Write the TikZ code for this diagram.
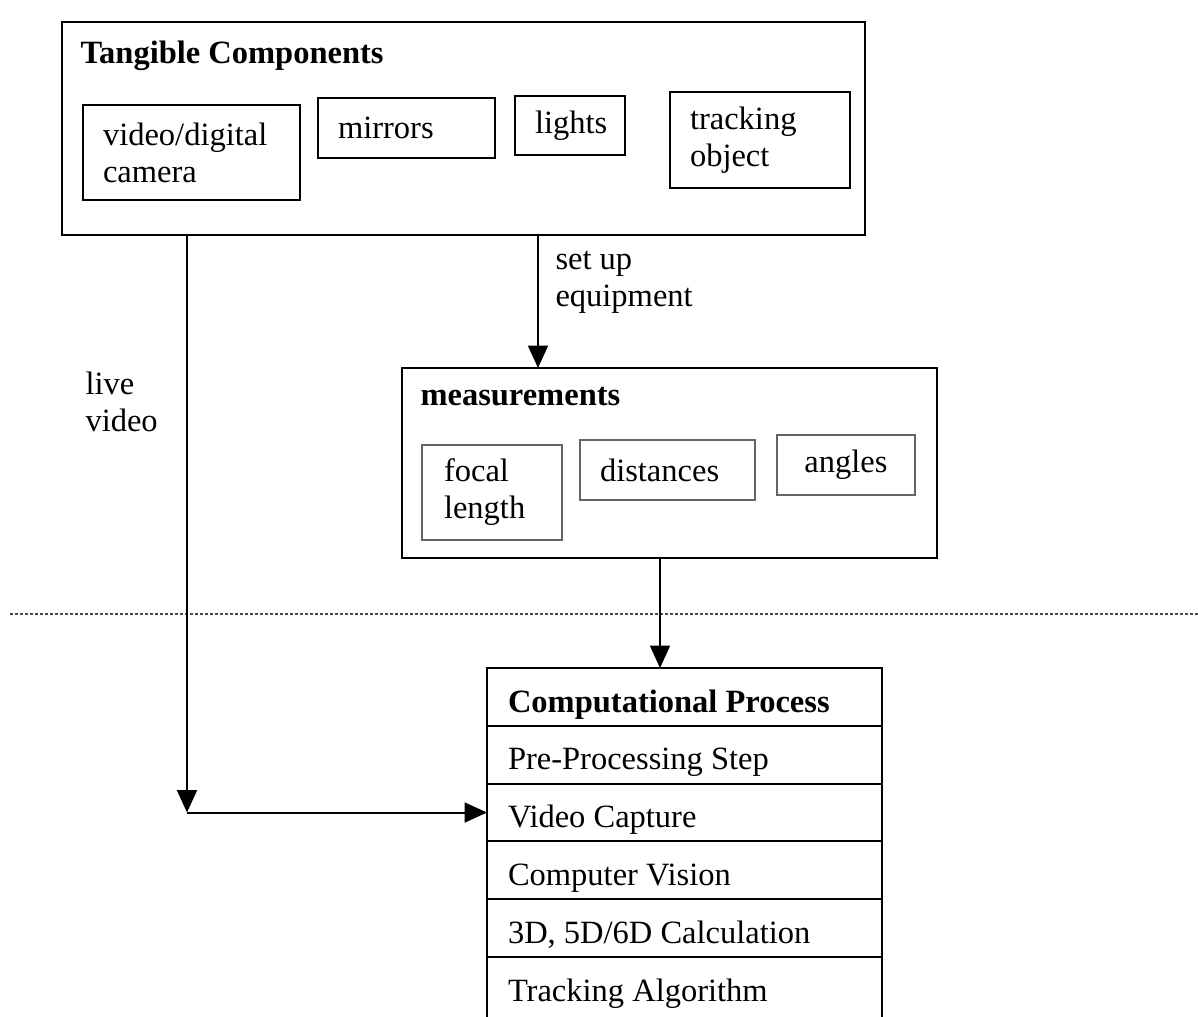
\documentclass[tikz,border=0pt]{standalone}
\usepackage{fontspec}
\setmainfont{Liberation Serif}
\usetikzlibrary{arrows.meta}
\newcommand{\pxu}{0.4pt}
\newcommand{\dfont}{\fontsize{13pt}{14.8pt}\selectfont}
\begin{document}
\begin{tikzpicture}[x=0.4pt,y=-0.4pt,
  font=\dfont,
  outerbox/.style={draw, line width=0.8pt, anchor=north west, inner sep=0pt, outer sep=0pt},
  innerbox/.style={draw, line width=0.55pt, anchor=north west, inner xsep=20*\pxu, inner ysep=0pt, align=flush left, outer sep=0pt},
  mbox/.style={draw=black!60, line width=0.45pt, anchor=north west, inner xsep=20*\pxu, inner ysep=0pt, align=flush left, outer sep=0pt},
  rowbox/.style={draw, line width=0.8pt, anchor=north west, inner xsep=21*\pxu, inner ysep=0pt, align=flush left, outer sep=0pt,
     minimum width=395*\pxu, text width=353*\pxu, minimum height=57.8*\pxu, text height=17.6pt, text depth=5.52pt},
  lbl/.style={anchor=west, inner sep=0pt, align=flush left},
  arr/.style={line width=0.8pt, -{Triangle[length=9pt,width=8pt]}},
  sepline/.style={densely dotted, line width=1pt, black!70}
]
\useasboundingbox (0,0) rectangle (1198,1016);

% Tangible components
\node[outerbox, minimum width=803*\pxu, minimum height=213*\pxu] (tang) at (62,22) {};
\node[lbl, font=\dfont\bfseries] (tangT) at (80,56) {Tangible Components};
\node[innerbox, minimum width=217*\pxu, minimum height=95*\pxu, text width=177*\pxu] (cam) at (83,105) {video/digital\\camera};
\node[innerbox, minimum width=177*\pxu, minimum height=60*\pxu, text width=137*\pxu] (mir) at (318,98) {mirrors};
\node[innerbox, minimum width=110*\pxu, minimum height=59*\pxu, text width=70*\pxu] (lig) at (515,96) {lights};
\node[innerbox, minimum width=180*\pxu, minimum height=96*\pxu, text width=140*\pxu] (trk) at (670,92) {tracking\\object};

% Measurements
\node[outerbox, minimum width=535*\pxu, minimum height=190*\pxu] (meas) at (402,368) {};
\node[lbl, font=\dfont\bfseries] (measT) at (420,397) {measurements};
\node[mbox, minimum width=140*\pxu, minimum height=95*\pxu, inner xsep=22*\pxu, text width=96*\pxu] (foc) at (422,445) {focal\\length};
\node[mbox, minimum width=175*\pxu, minimum height=60*\pxu, text width=135*\pxu] (dis) at (580,440) {distances};
\node[mbox, minimum width=138*\pxu, minimum height=60*\pxu, text width=98*\pxu, align=center] (ang) at (777,435) {angles};

% Computational process table
\node[rowbox, font=\dfont\bfseries] (r0) at (487,668) {Computational Process};
\node[rowbox] (r1) at (r0.south west) {Pre-Processing Step};
\node[rowbox] (r2) at (r1.south west) {Video Capture};
\node[rowbox] (r3) at (r2.south west) {Computer Vision};
\node[rowbox] (r4) at (r3.south west) {3D, 5D/6D Calculation};
\node[rowbox, minimum height=64*\pxu, text depth=8pt] (r5) at (r4.south west) {Tracking Algorithm};

% separator
\draw[sepline] (10,614) -- (1198,614);

% connectors
\coordinate (sx) at (538,0);
\coordinate (cx) at (660,0);
\coordinate (lv) at (187,0);
\coordinate (corner) at (lv |- r2.west);
\draw[arr] (tang.south -| sx) -- (meas.north -| sx);
\draw[arr] (meas.south -| cx) -- (r0.north -| cx);
\draw[arr] (tang.south -| lv) -- (corner);
\draw[arr] (corner) -- (r2.west);

% labels
\node[lbl] (setup) at (555,282) {set up\\equipment};
\node[lbl] (live) at (85,402) {live\\video};
\end{tikzpicture}
\end{document}
